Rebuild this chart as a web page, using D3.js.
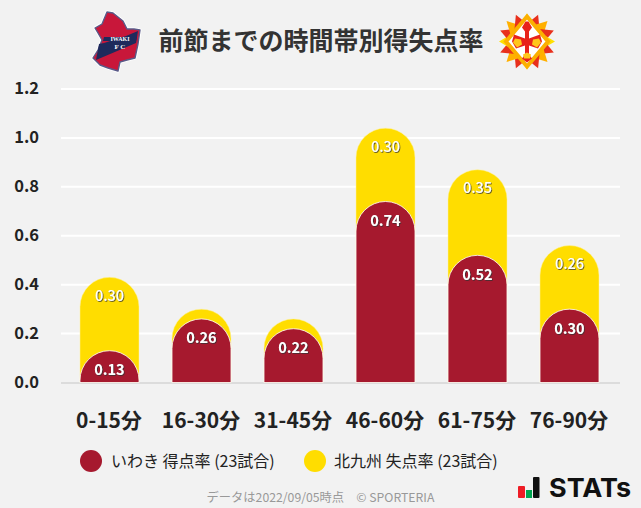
<!DOCTYPE html>
<html><head><meta charset="utf-8">
<script src="https://cdn.jsdelivr.net/npm/d3@7/dist/d3.min.js"></script>
<style>
html,body{margin:0;padding:0;background:#f2f2f2}
svg{display:block}
text{font-family:"Noto Sans CJK JP","Noto Sans",sans-serif}
</style></head><body>
<svg id="c" width="641" height="508"></svg>
<script>
const categories=["0-15分","16-30分","31-45分","46-60分","61-75分","76-90分"];
const scored=[0.13,0.26,0.22,0.74,0.52,0.30];
const conceded=[0.30,0.04,0.04,0.30,0.35,0.26];
const yTicks=[0,0.2,0.4,0.6,0.8,1.0,1.2];
const titleText="前節までの時間帯別得失点率";
const legendA="いわき 得点率 (23試合)";
const legendB="北九州 失点率 (23試合)";
const footer="データは2022/09/05時点　© SPORTERIA";
const RED="#a6192e",YEL="#ffdd00";

const svg=d3.select("#c");
const defs=svg.append("defs");
const f=defs.append("filter").attr("id","sh").attr("x","-20%").attr("y","-20%").attr("width","140%").attr("height","140%");
f.append("feDropShadow").attr("dx",0.8).attr("dy",0.8).attr("stdDeviation",0.3).attr("flood-color","#333").attr("flood-opacity",0.9);

const y=d3.scaleLinear().domain([0,1.2]).range([382.5,89]);
const x=d3.scaleBand().domain(categories).range([63.5,615.5]).paddingInner(33/92).paddingOuter(33/184);

svg.append("g").selectAll("line").data(yTicks.filter(d=>d>0)).join("line")
 .attr("x1",61).attr("x2",620).attr("y1",d=>y(d)).attr("y2",d=>y(d))
 .attr("stroke","#fff").attr("stroke-width",2);
svg.append("line").attr("x1",61).attr("x2",620).attr("y1",383).attr("y2",383).attr("stroke","#dcdcdc").attr("stroke-width",2);

const ya=d3.axisLeft(y).tickValues(yTicks).tickFormat(d3.format(".1f")).tickSize(0);
const yg=svg.append("g").attr("transform","translate(39,-1)").call(ya);
yg.select(".domain").remove();
yg.selectAll("text").attr("x",0).attr("dy","0.36em").attr("fill","#222").attr("font-size",16.5).attr("font-weight",700).style("font-family",'"Noto Sans CJK JP"');

function barPath(x0,w,yTop,yBase){
  const r=w/2, ry=Math.min(r,yBase-yTop);
  return `M${x0},${yBase}V${yTop+ry}A${r},${ry} 0 0 1 ${x0+r},${yTop}A${r},${ry} 0 0 1 ${x0+w},${yTop+ry}V${yBase}Z`;
}
const rows=categories.map((c,i)=>({c,a:scored[i],b:conceded[i]}));
const bars=svg.append("g");
bars.selectAll("path.b").data(rows).join("path").attr("class","b")
 .attr("d",d=>barPath(x(d.c),x.bandwidth(),y(d.a+d.b),y(0))).attr("fill",YEL).attr("stroke","#fff3a0").attr("stroke-width",0.5);
bars.selectAll("path.a").data(rows).join("path").attr("class","a")
 .attr("d",d=>barPath(x(d.c),x.bandwidth(),y(d.a),y(0))).attr("fill",RED).attr("stroke","#fff").attr("stroke-opacity",.8).attr("stroke-width",1);

const lab=svg.append("g").attr("text-anchor","middle").attr("fill","#fff").attr("font-size",14.5).attr("font-weight",700).attr("filter","url(#sh)");
lab.selectAll("text.a").data(rows).join("text").attr("class","a")
 .attr("x",d=>x(d.c)+x.bandwidth()/2).attr("y",d=>y(d.a)+24.5).text(d=>d.a.toFixed(2));
lab.selectAll("text.b").data(rows.filter(d=>d.b>=0.1)).join("text").attr("class","b").attr("font-weight",500)
 .attr("x",d=>x(d.c)+x.bandwidth()/2).attr("y",d=>y(d.a+d.b)+23.5).text(d=>d.b.toFixed(2));

const xa=d3.axisBottom(x).tickSize(0);
const xg=svg.append("g").attr("transform","translate(-0.5,0)").call(xa);
xg.select(".domain").remove();
xg.selectAll("text").attr("y",420).attr("dy","0.36em").attr("fill","#222").attr("font-size",21).attr("font-weight",700).style("font-family",'"Noto Sans CJK JP"');

svg.append("text").attr("x",321).attr("y",50).attr("text-anchor","middle").attr("fill","#333").attr("font-size",25).attr("font-weight",700).text(titleText);

// left logo
const L=svg.append("g");
const shield="M107,12 L113,13 L118,17 L123,21 L127,29 L134,29 L140,30 L138,44 L135,58 L127,60 L120,62 L118,71 L108,68 L100,65 L93,58 L98,50 L102,40 L98,33 L95,28 L102,24Z";
L.append("path").attr("d",shield).attr("fill","#c8173a").attr("stroke","#fff").attr("stroke-width",3.2).attr("stroke-linejoin","round");
L.append("path").attr("d",shield).attr("fill","#c8173a").attr("stroke","#5a5a88").attr("stroke-width",1.4).attr("stroke-linejoin","round");
L.append("path").attr("d","M138,31 L136,43 L96,60 L99,44 L104,43 L126,36Z").attr("fill","#1e2a5c");
L.append("path").attr("d","M104,37 L137,37 L136,41 L103,41Z").attr("fill","#1e2a5c");
L.append("text").attr("x",120).attr("y",41).attr("text-anchor","middle").attr("fill","#fff").attr("font-size",6).attr("font-weight",700).style("font-family","'Liberation Serif'").text("IWAKI");
L.append("text").attr("x",120).attr("y",48.5).attr("text-anchor","middle").attr("fill","#fff").attr("font-size",7).attr("font-weight",700).style("font-family","'Liberation Serif'").text("F C");

// right logo
const R=svg.append("g").attr("transform","translate(527,41.5)");
const spikes=d3.range(16);
const spikeColor=["#ffe000","#e8301c","#ffb000","#e8301c"];
R.selectAll("path.s").data(spikes).join("path").attr("class","s")
 .attr("d",d=>d%4===0?"M-7,-16 L0,-28 L7,-16Z":"M-8,-14 L0,-29 L8,-14Z").attr("transform",d=>`rotate(${d*22.5})`)
 .attr("fill",d=>spikeColor[d%4]);
R.append("path").attr("d","M0,-25 L21,0 L0,25 L-21,0Z").attr("fill","#fff").attr("stroke","#fbb000").attr("stroke-width",4).attr("stroke-linejoin","miter");
R.append("path").attr("d","M-1.5,-20 L1.5,-20 L5,-14 L2,-10 L2,-3 L13,-7 L15,0 L11,7 L2,4 L2,13 L5,17 L0,21 L-5,17 L-2,13 L-2,4 L-11,7 L-15,0 L-13,-7 L-2,-3 L-2,-10 L-5,-14Z").attr("fill","#e8231a");
R.append("path").attr("d","M-12,-3 L-6,-2 L-5,3 L-10,6 L-14,1Z M12,-3 L6,-2 L5,3 L10,6 L14,1Z M-4,13 L0,11 L4,13 L3,17 L-3,17Z").attr("fill","#ffc61a");

// legend
svg.append("circle").attr("cx",91).attr("cy",461).attr("r",11).attr("fill",RED);
svg.append("circle").attr("cx",315).attr("cy",461).attr("r",11).attr("fill",YEL);
svg.append("text").attr("x",111).attr("y",467).attr("fill","#222").attr("font-size",16).text(legendA);
svg.append("text").attr("x",334).attr("y",467).attr("fill","#222").attr("font-size",16).text(legendB);

svg.append("text").attr("x",320.5).attr("y",502).attr("text-anchor","middle").attr("fill","#999").attr("font-size",12.25).text(footer);

// STATs logo
const G=svg.append("g");
G.append("rect").attr("x",518).attr("y",486).attr("width",7).attr("height",12).attr("rx",1).attr("fill","#ee1c25");
G.append("rect").attr("x",526).attr("y",490).attr("width",6).attr("height",8).attr("fill","#00a651");
G.append("rect").attr("x",533).attr("y",477).attr("width",6.5).attr("height",21).attr("rx",1).attr("fill","#111");
G.append("text").attr("x",549).attr("y",497).attr("font-size",26).attr("font-weight",700).attr("fill","#111").attr("textLength",82).attr("lengthAdjust","spacingAndGlyphs").style("font-family","Inter").text("STATs");
</script></body></html>
